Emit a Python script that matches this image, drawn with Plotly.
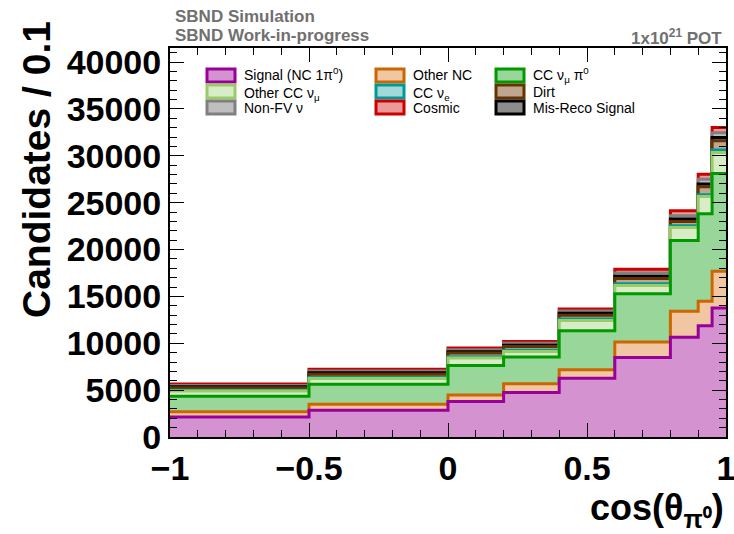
import numpy as np
import plotly.graph_objects as go

# ---------------- data ----------------
bin_edges = [-1.0, -0.5, 0.0, 0.2, 0.4, 0.6, 0.8, 0.9, 0.95, 1.0]

signal   = [2140, 2860, 3780, 4740, 6280, 8490, 10630, 11880, 13770]
other_nc = [560, 640, 710, 930, 890, 1640, 2780, 2600, 3920]
cc_pi0   = [1650, 2140, 3140, 2860, 4170, 5140, 7560, 9350, 10420]
other_cc = [550, 610, 790, 600, 1100, 880, 1380, 1820, 2240]
cc_nue   = [80, 100, 130, 120, 160, 200, 200, 200, 280]
dirt     = [270, 350, 400, 400, 400, 550, 450, 850, 970]
misreco  = [100, 150, 150, 150, 200, 250, 250, 300, 350]
non_fv   = [150, 200, 200, 200, 230, 350, 350, 500, 500]
cosmic   = [150, 190, 190, 200, 230, 400, 550, 530, 580]

# stack order bottom -> top
layers = [signal, other_nc, cc_pi0, other_cc, cc_nue, dirt, misreco, non_fv, cosmic]
names = ["Signal (NC 1π<sup>0</sup>)", "Other NC", "CC ν<sub>μ</sub> π<sup>0</sup>",
         "Other CC ν<sub>μ</sub>", "CC ν<sub>e</sub>", "Dirt", "Mis-Reco Signal",
         "Non-FV ν", "Cosmic"]
line_colors = ["#990099", "#cc6600", "#009900", "#99cc66", "#009999",
               "#663300", "#000000", "#808080", "#cc0000"]
fill_colors = ["#d492d0", "#f0c6a3", "#99d699", "#d8ecc8", "#a3d8d8",
               "#bea68f", "#8c8c8c", "#bfbfbf", "#eb9999"]

# legend layout (column-major as in reference): indices into names
legend_grid = [[0, 3, 7], [1, 4, 8], [2, 5, 6]]

y_tickvals = [0, 5000, 10000, 15000, 20000, 25000, 30000, 35000, 40000]
x_tickvals = [-1, -0.5, 0, 0.5, 1]
x_ticktext = ["−1", "−0.5", "0", "0.5", "1"]

# ---------------- figure ----------------
fig = go.Figure()
cum = np.cumsum(np.array(layers, dtype=float), axis=0)
x = bin_edges
for k in range(len(layers) - 1, -1, -1):
    y = list(cum[k]) + [cum[k][-1]]
    fig.add_trace(go.Scatter(
        x=x, y=y, mode="lines", line=dict(shape="hv", color=line_colors[k], width=3),
        fill="tozeroy", fillcolor=fill_colors[k], name=names[k], showlegend=False,
        hoverinfo="skip"))

W, H = 734, 534
L, R, T, B = 170, 8, 48, 97
pw, ph = W - L - R, H - T - B

def px2paper(px, py):
    return (px - L) / pw, (H - B - py) / ph

# manual legend
col_box_x = [207, 376, 496]
row_y = [75.5, 91.5, 107.5]
for c, col in enumerate(legend_grid):
    for r, idx in enumerate(col):
        x0, y0 = px2paper(col_box_x[c], row_y[r] - 6.5)
        x1, y1 = px2paper(col_box_x[c] + 28, row_y[r] + 6.5)
        fig.add_shape(type="rect", xref="paper", yref="paper", x0=x0, x1=x1, y0=y1, y1=y0,
                      line=dict(color=line_colors[idx], width=3), fillcolor=fill_colors[idx])
        label = names[idx]
        dy = 0.0
        if "<sub>" in label:
            dy += 2.0
        if "<sup>" in label:
            dy -= 2.0
        tx, ty = px2paper(col_box_x[c] + 35, row_y[r] + dy)
        fig.add_annotation(xref="paper", yref="paper", x=tx, y=ty, text=label,
                           showarrow=False, xanchor="left", yanchor="middle",
                           font=dict(family="Liberation Sans", size=14, color="black"))

bold = dict(family="Liberation Sans", size=34, color="black", weight="bold")

fig.update_xaxes(range=[-1, 1], tickvals=x_tickvals, ticktext=x_ticktext,
                 ticks="inside", ticklen=14, tickwidth=1, tickcolor="black",
                 minor=dict(dtick=0.1, ticks="inside", ticklen=7, tickcolor="black"),
                 showline=True, linecolor="black", linewidth=2, mirror="ticks",
                 showgrid=False, zeroline=False, tickfont=bold, automargin=False,
                 ticklabeloverflow="allow")
fig.update_yaxes(range=[0, 41500], tickvals=y_tickvals, tickformat="d",
                 ticks="inside", ticklen=14, tickwidth=1, tickcolor="black",
                 minor=dict(dtick=1000, ticks="inside", ticklen=7, tickcolor="black"),
                 showline=True, linecolor="black", linewidth=2, mirror="ticks",
                 showgrid=False, zeroline=False, tickfont=bold, automargin=False,
                 ticklabeloverflow="allow")

# axis titles
ax, ay = px2paper(36, 170)
fig.add_annotation(xref="paper", yref="paper", x=ax, y=ay, text="Candidates / 0.1",
                   textangle=-90, showarrow=False, xanchor="center", yanchor="middle",
                   font=dict(family="Liberation Sans", size=39, color="black", weight="bold"))
bx, by = px2paper(726, 510)
fig.add_annotation(xref="paper", yref="paper", x=bx, y=by, text="cos(θ<sub>π⁰</sub>)",
                   showarrow=False, xanchor="right", yanchor="middle",
                   font=dict(family="Liberation Sans", size=36, color="black", weight="bold"))

# header texts
gray = "#707070"
for txt, py in [("SBND Simulation", 16), ("SBND Work-in-progress", 36)]:
    hx, hy = px2paper(173, py)
    fig.add_annotation(xref="paper", yref="paper", x=hx, y=hy, text=txt, showarrow=False,
                       xanchor="left", yanchor="middle",
                       font=dict(family="Liberation Sans", size=17, color=gray, weight="bold"))
px_, py_ = px2paper(724, 37)
fig.add_annotation(xref="paper", yref="paper", x=px_, y=py_, text="1x10<sup>21</sup> POT",
                   showarrow=False, xanchor="right", yanchor="middle",
                   font=dict(family="Liberation Sans", size=17, color=gray, weight="bold"))

fig.update_layout(width=W, height=H, margin=dict(l=L, r=R, t=T, b=B, autoexpand=False),
                  paper_bgcolor="white", plot_bgcolor="white", showlegend=False)

fig.write_html("out.html")
